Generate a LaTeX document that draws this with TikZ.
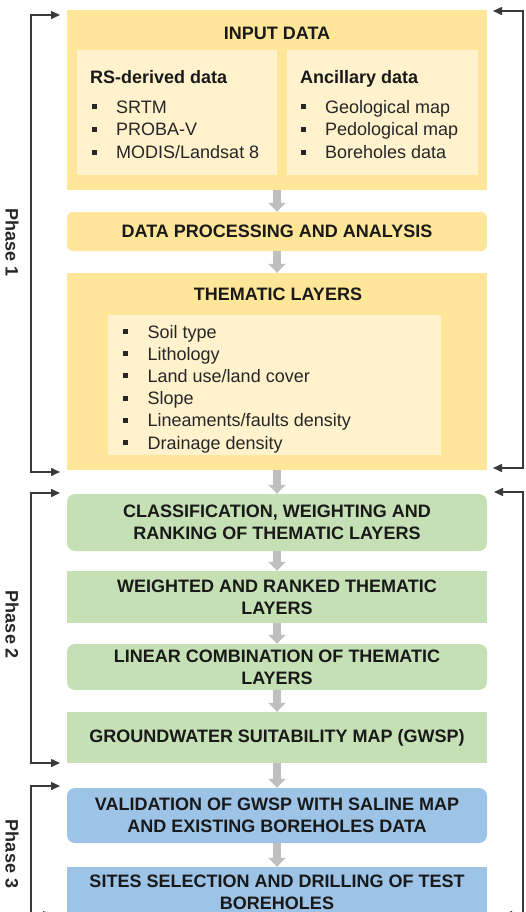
\documentclass[tikz,border=0pt]{standalone}
\usepackage{fontspec}
\setmainfont{Liberation Sans}
\usetikzlibrary{arrows.meta, positioning}

\definecolor{goldbox}{HTML}{FFE699}
\definecolor{goldlight}{HTML}{FFF2CC}
\definecolor{greenbox}{HTML}{C5E0B4}
\definecolor{bluebox}{HTML}{9DC3E6}
\definecolor{flowgray}{HTML}{BFBFBF}
\definecolor{linegray}{HTML}{3A3A3A}

\newcommand{\blt}{\makebox[24.5pt][l]{\rule[4pt]{5pt}{5pt}}}

\tikzset{
  box/.style={minimum width=420pt, inner sep=0pt, align=center,
    font=\fontsize{18}{22}\selectfont\bfseries, text=black!90},
  goldb/.style={box, fill=goldbox},
  greenb/.style={box, fill=greenbox},
  blueb/.style={box, fill=bluebox},
  innerb/.style={fill=goldlight, inner sep=0pt},
  title/.style={font=\fontsize{18}{22}\selectfont\bfseries, text=black!90, inner sep=0pt},
  item/.style={font=\fontsize{18}{22}\selectfont, text=black!85, inner sep=0pt},
  flow/.style={draw=flowgray, line width=8pt, -{Triangle[length=9pt,width=17pt]}},
  bracket/.style={draw=linegray, line width=1.5pt,
    {Triangle[length=9pt,width=8pt]}-{Triangle[length=9pt,width=8pt]}},
  phaselbl/.style={font=\fontsize{18}{22}\selectfont\bfseries, text=black!85, rotate=-90}
}

\begin{document}
\begin{tikzpicture}[x=1pt, y=-1pt]
\useasboundingbox (0,0) rectangle (525,912);

% Phase 1 boxes
\node[goldb, minimum height=180pt] (indata) at (277,100) {};
\node[title, anchor=base] (indatatitle) at (277,40) {INPUT DATA};
\node[innerb, minimum width=200pt, minimum height=125pt] (rsbox) at (177,112.5) {};
\node[innerb, minimum width=191pt, minimum height=125pt] (ancbox) at (382.5,112.5) {};
\node[title, anchor=base west] (rshead) at (90,84) {RS-derived data};
\node[title, anchor=base west] (anchead) at (300,84) {Ancillary data};
\foreach \t [count=\i] in {SRTM, PROBA-V, MODIS/Landsat 8}
    \node[item, anchor=base west] (rs\i) at (91.5,90.5+22.75*\i) {\blt\t};
\foreach \t [count=\i] in {Geological map, Pedological map, Boreholes data}
    \node[item, anchor=base west] (anc\i) at (300.5,90.5+22.75*\i) {\blt\t};

\node[goldb, rounded corners=6pt, minimum height=39pt] (proc) at (277,231.5) {DATA PROCESSING AND ANALYSIS};

\node[goldb, minimum height=197pt] (thematic) at (277,371.5) {};
\node[title, anchor=base] (thtitle) at (278,300.5) {THEMATIC LAYERS};
\node[innerb, minimum width=333pt, minimum height=140pt] (thlist) at (274.5,385) {};
\foreach \t [count=\i] in {Soil type, Lithology, Land use/land cover, Slope, Lineaments/faults density, Drainage density}
    \node[item, anchor=base west] (th\i) at (123,315.8+22.2*\i) {\blt\t};

% Phase 2 boxes
\node[greenb, rounded corners=8pt, minimum height=57pt] (classif) at (277,522.5) {CLASSIFICATION, WEIGHTING AND\\RANKING OF THEMATIC LAYERS};
\node[greenb, minimum height=52pt] (weighted) at (277,597) {WEIGHTED AND RANKED THEMATIC\\LAYERS};
\node[greenb, rounded corners=8pt, minimum height=46pt] (linear) at (277,667) {LINEAR COMBINATION OF THEMATIC\\LAYERS};
\node[greenb, minimum height=51pt] (gwsp) at (277,737.5) {GROUNDWATER SUITABILITY MAP (GWSP)};

% Phase 3 boxes
\node[blueb, rounded corners=8pt, minimum height=55pt] (valid) at (277,815.5) {VALIDATION OF GWSP WITH SALINE MAP\\AND EXISTING BOREHOLES DATA};
\node[blueb, minimum height=50pt] (sites) at (277,892) {SITES SELECTION AND DRILLING OF TEST\\BOREHOLES};

% Flow arrows
\draw[flow] (indata) -- (proc);
\draw[flow] (proc) -- (thematic);
\draw[flow] (thematic) -- (classif);
\draw[flow] (classif) -- (weighted);
\draw[flow] (weighted) -- (linear);
\draw[flow] (linear) -- (gwsp);
\draw[flow] (gwsp) -- (valid);
\draw[flow] (valid) -- (sites);

% Phase brackets
\coordinate (p1a) at (60,15);
\coordinate (p1b) at (60,472);
\coordinate (p1c) at (493,11);
\coordinate (p1d) at (493,468);
\coordinate (p2a) at (60,493);
\coordinate (p2b) at (60,763);
\coordinate (p2c) at (494,492);
\coordinate (p3a) at (60,786);
\coordinate (p3b) at (52,915);
\coordinate (p3c) at (503,915);
\draw[bracket] (p1a) -- ++(-29,0) |- (p1b);
\draw[bracket] (p1c) -- ++(30,0) |- (p1d);
\draw[bracket] (p2a) -- ++(-29,0) |- (p2b);
\draw[bracket] (p2c) -- ++(29,0) |- (p3c);
\draw[bracket] (p3a) -- ++(-29,0) |- (p3b);

% Phase labels
\node[phaselbl] (ph1) at (12,243) {Phase 1};
\node[phaselbl] (ph2) at (12,625) {Phase 2};
\node[phaselbl] (ph3) at (12,854) {Phase 3};

\end{tikzpicture}
\end{document}
